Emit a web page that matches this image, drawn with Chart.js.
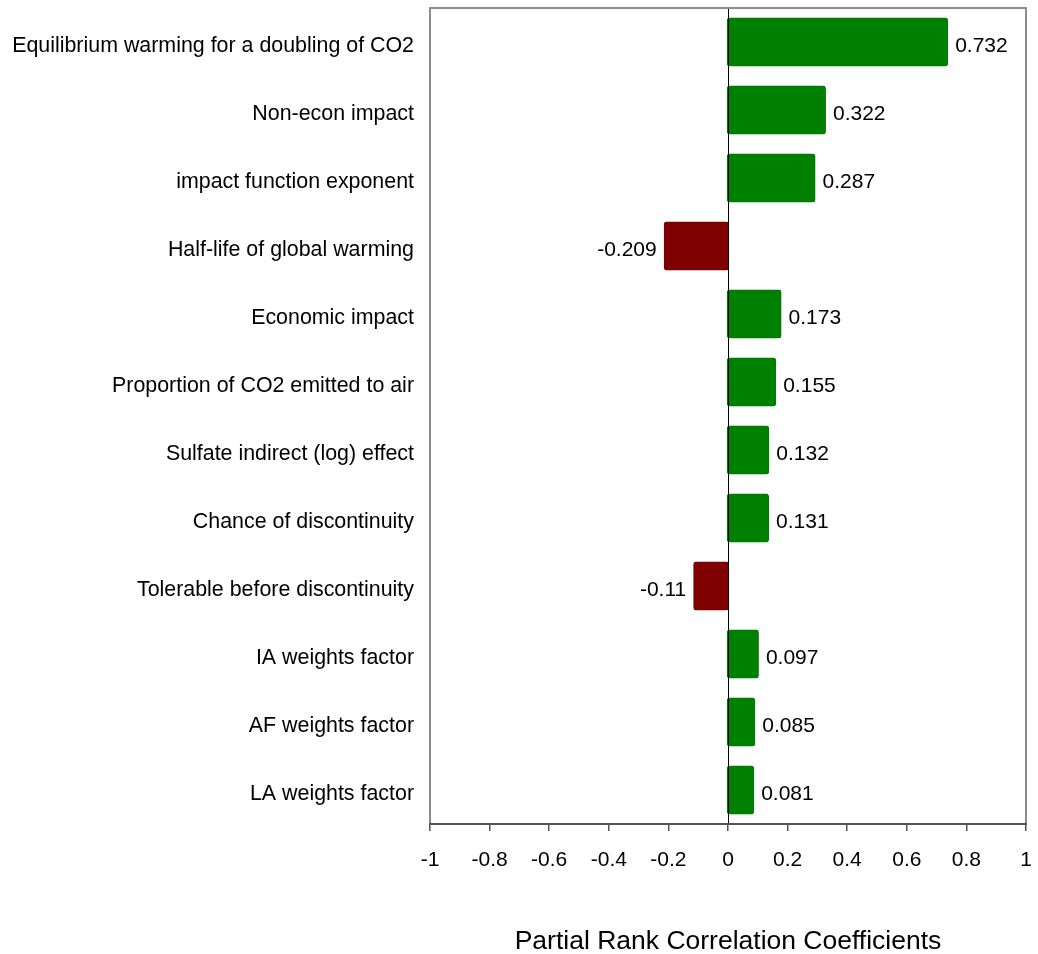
<!DOCTYPE html>
<html>
<head>
<meta charset="utf-8">
<script src="https://cdn.jsdelivr.net/npm/chart.js@4"></script>
<style>
  html, body { margin: 0; padding: 0; background: #fff; }
  #wrap { width: 1038px; height: 954px; }
</style>
</head>
<body>
<div id="wrap"><canvas id="prccChart" width="1038" height="954"></canvas></div>
<script>
// Données du graphique
const categories = [
    'Equilibrium warming for a doubling of CO2',
    'Non-econ impact',
    'impact function exponent',
    'Half-life of global warming',
    'Economic impact',
    'Proportion of CO2 emitted to air',
    'Sulfate indirect (log) effect',
    'Chance of discontinuity',
    'Tolerable before discontinuity',
    'IA weights factor',
    'AF weights factor',
    'LA weights factor'
];
const coefficients = [0.732, 0.322, 0.287, -0.209, 0.173, 0.155, 0.132, 0.131, -0.11, 0.097, 0.085, 0.081];
const valueLabels = ['0.732', '0.322', '0.287', '-0.209', '0.173', '0.155', '0.132', '0.131', '-0.11', '0.097', '0.085', '0.081'];
const xTicks = [-1, -0.8, -0.6, -0.4, -0.2, 0, 0.2, 0.4, 0.6, 0.8, 1];
const axisTitle = 'Partial Rank Correlation Coefficients';

const FONT = 'Liberation Sans, Arial, sans-serif';

document.addEventListener('DOMContentLoaded', function () {
    // Cadre + ligne du zéro
    const framePlugin = {
        id: 'frame',
        afterDatasetsDraw(chart) {
            const { ctx, chartArea: a, scales } = chart;
            const x0 = Math.round(scales.x.getPixelForValue(0)) + 0.5;
            ctx.save();
            ctx.strokeStyle = '#000';
            ctx.lineWidth = 1;
            ctx.beginPath();
            ctx.moveTo(x0, a.top);
            ctx.lineTo(x0, a.bottom);
            ctx.stroke();

            ctx.strokeStyle = '#8c8c8c';
            ctx.lineWidth = 2;
            ctx.beginPath();
            ctx.moveTo(a.left, a.bottom);
            ctx.lineTo(a.left, a.top);
            ctx.lineTo(a.right, a.top);
            ctx.lineTo(a.right, a.bottom);
            ctx.stroke();

            ctx.strokeStyle = '#555';
            ctx.beginPath();
            ctx.moveTo(a.left - 1, a.bottom);
            ctx.lineTo(a.right + 1, a.bottom);
            ctx.stroke();
            ctx.restore();
        }
    };

    // Étiquettes des valeurs
    const labelPlugin = {
        id: 'valueLabels',
        afterDatasetsDraw(chart) {
            const { ctx } = chart;
            const meta = chart.getDatasetMeta(0);
            ctx.save();
            ctx.font = '21px ' + FONT;
            ctx.fillStyle = '#000';
            ctx.textBaseline = 'middle';
            meta.data.forEach((bar, i) => {
                const v = coefficients[i];
                if (v >= 0) {
                    ctx.textAlign = 'left';
                    ctx.fillText(valueLabels[i], bar.x + 9, bar.y + 4);
                } else {
                    ctx.textAlign = 'right';
                    ctx.fillText(valueLabels[i], bar.x - 9, bar.y + 4);
                }
            });
            ctx.restore();
        }
    };

    const chartEl = document.getElementById('prccChart');
    new Chart(chartEl, {
        type: 'bar',
        data: {
            labels: categories,
            datasets: [{
                data: coefficients,
                backgroundColor: coefficients.map(v => v >= 0 ? '#008000' : '#7f0000'),
                borderColor: coefficients.map(v => v >= 0 ? '#007a00' : '#780000'),
                borderWidth: 1,
                borderRadius: 3,
                borderSkipped: false,
                inflateAmount: 2,
                categoryPercentage: 1,
                barPercentage: 0.66
            }]
        },
        plugins: [framePlugin, labelPlugin],
        options: {
            indexAxis: 'y',
            responsive: false,
            animation: false,
            layout: { padding: { left: 0, top: 8, right: 12, bottom: 0 } },
            plugins: {
                legend: { display: false },
                tooltip: { enabled: false }
            },
            scales: {
                x: {
                    type: 'linear',
                    min: -1,
                    max: 1,
                    afterBuildTicks: (scale) => {
                        scale.ticks = xTicks.map(v => ({ value: v }));
                    },
                    afterFit: (scale) => {
                        scale.height = 130;
                        scale.paddingLeft = 0;
                        scale.paddingRight = 0;
                    },
                    grid: {
                        drawOnChartArea: false,
                        drawTicks: true,
                        tickLength: 7,
                        color: '#555',
                        lineWidth: 1.5
                    },
                    border: { display: false },
                    ticks: {
                        color: '#000',
                        font: { family: FONT, size: 21 },
                        padding: 17,
                        maxRotation: 0,
                        autoSkip: false,
                        callback: (v) => String(v)
                    },
                    title: {
                        display: true,
                        text: axisTitle,
                        color: '#000',
                        font: { family: FONT, size: 26.5, lineHeight: 1 },
                        padding: { top: 0, bottom: -1 }
                    }
                },
                y: {
                    afterFit: (scale) => {
                        scale.width = 430;
                        scale.paddingTop = 0;
                        scale.paddingBottom = 0;
                    },
                    grid: { display: false, drawTicks: false },
                    border: { display: false },
                    ticks: {
                        color: '#000',
                        font: { family: FONT, size: 21.4 },
                        padding: 16,
                        labelOffset: 4,
                        autoSkip: false
                    }
                }
            }
        }
    });
});
</script>
</body>
</html>
